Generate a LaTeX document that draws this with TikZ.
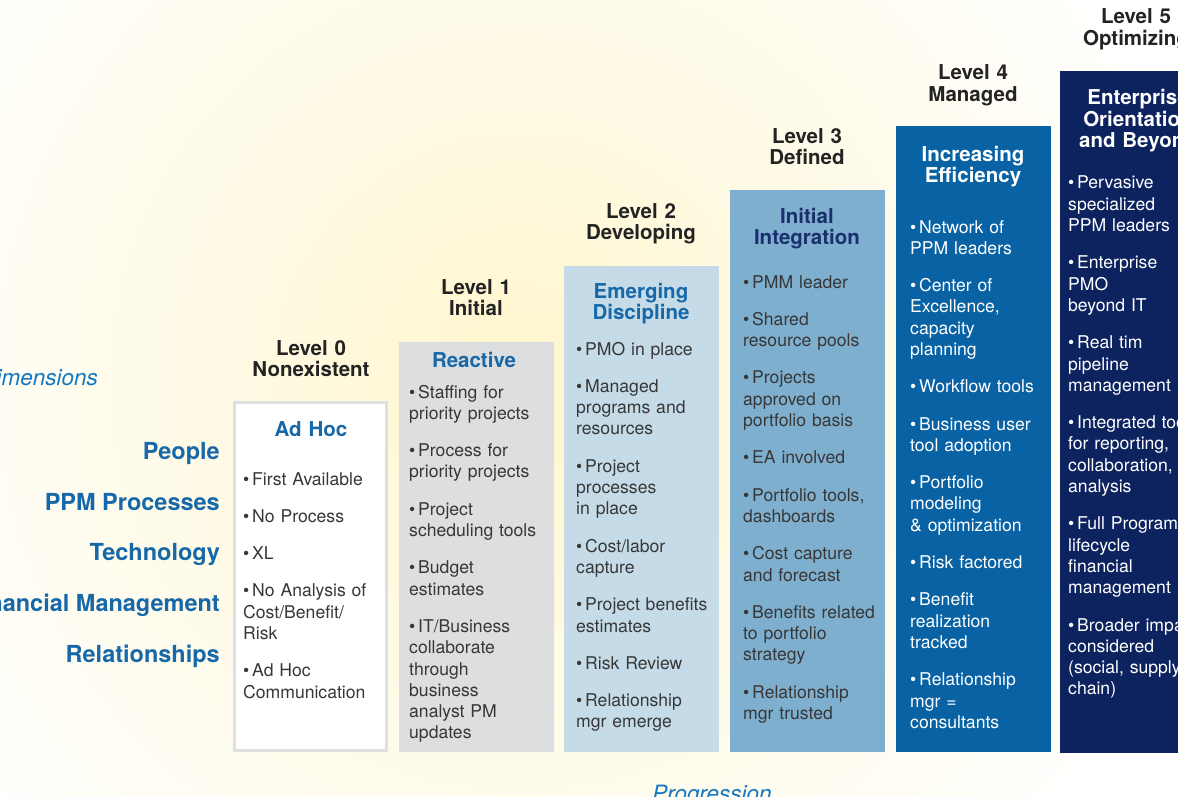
\documentclass[tikz,border=0pt]{standalone}
\usepackage{fontspec}
\setmainfont{TeX Gyre Heros}
\definecolor{dimblue}{RGB}{22,104,168}
\definecolor{itblue}{RGB}{20,120,195}
\definecolor{navyttl}{RGB}{26,48,110}
\definecolor{lvlc}{RGB}{35,35,35}
\definecolor{bodyc}{RGB}{55,55,55}
\definecolor{border0}{RGB}{222,223,225}
\definecolor{fillA}{RGB}{221,222,224}
\definecolor{fillB}{RGB}{197,220,232}
\definecolor{fillC}{RGB}{127,175,207}
\definecolor{fillD}{RGB}{8,98,164}
\definecolor{fillE}{RGB}{12,35,95}
\definecolor{glowA}{RGB}{255,246,205}
\definecolor{glowB}{RGB}{255,250,228}
\pgfdeclareradialshading{glow}{\pgfpoint{0bp}{0bp}}{color(0bp)=(glowA); color(9bp)=(glowB); color(22bp)=(white); color(50bp)=(white)}
\newcommand\itm[1]{\noindent\hangindent=9pt\hangafter=1\makebox[9pt][l]{\textbullet}#1\par}
\begin{document}
\begin{tikzpicture}[x=1pt,y=-1pt,
  colbox/.style={rectangle, inner sep=0pt, outer sep=0pt, anchor=north west, minimum width=155pt},
  lvl/.style={text width=180pt, align=center, anchor=base, inner sep=0pt, text=lvlc, font=\bfseries\fontsize{20.5}{21.5}\selectfont},
  ttl/.style={text width=160pt, align=center, anchor=base, inner sep=0pt, font=\bfseries\fontsize{20.5}{21.5}\selectfont},
  body/.style={text width=175pt, align=left, anchor=base west, inner sep=0pt, font=\fontsize{17.6}{21.3}\selectfont, execute at begin node={\setlength{\parskip}{16pt}}},
  dim/.style={anchor=base east, inner sep=0pt, text=dimblue, font=\bfseries\fontsize{23.5}{24}\selectfont},
  ital/.style={inner sep=0pt, text=itblue, font=\itshape\fontsize{22.5}{23}\selectfont}]
\useasboundingbox (0,0) rectangle (1178,797);
\clip (0,0) rectangle (1178,797);
\fill[white] (0,0) rectangle (1178,797);
\shade[shading=glow] (520,380) circle (800);

% columns
\node[colbox, fill=white, draw=border0, line width=3pt, minimum width=152pt, minimum height=348pt] (c0) at (234.5,402.5) {};
\node[colbox, fill=fillA, minimum height=410pt] (c1) at (399,342) {};
\node[colbox, fill=fillB, minimum height=486pt] (c2) at (564,266) {};
\node[colbox, fill=fillC, minimum height=562pt] (c3) at (730,190) {};
\node[colbox, fill=fillD, minimum height=626pt] (c4) at (896,126) {};
\node[colbox, fill=fillE, minimum height=682pt] (c5) at (1060,71) {};

% level headers
\node[lvl] (h0) at (311,355) {Level 0\\Nonexistent};
\node[lvl] (h1) at (476,294) {Level 1\\Initial};
\node[lvl] (h2) at (641,218) {Level 2\\Developing};
\node[lvl] (h3) at (807,143) {Level 3\\Defined};
\node[lvl] (h4) at (973,80) {Level 4\\Managed};
\node[lvl] (h5) at (1136,24) {Level 5\\Optimizing};

% titles
\node[ttl, text=dimblue] (t0) at (311,436) {Ad Hoc};
\node[ttl, text=dimblue] (t1) at (474,367) {Reactive};
\node[ttl, text=dimblue] (t2) at (641,298) {Emerging\\Discipline};
\node[ttl, text=navyttl] (t3) at (807,223) {Initial\\Integration};
\node[ttl, text=white] (t4) at (973,161) {Increasing\\Efficiency};
\node[ttl, text=white] (t5) at (1138,105) {Enterprise\\Orientation\\and Beyond};

% bodies
\node[body, text=bodyc] (b0) at (243,485) {\itm{First Available}\itm{No Process}\itm{XL}\itm{No Analysis of\\Cost/Benefit/\\Risk}\itm{Ad Hoc\\Communication}};
\node[body, text=bodyc] (b1) at (409,398) {\itm{Staffing for\\priority projects}\itm{Process for\\priority projects}\itm{Project\\scheduling tools}\itm{Budget\\estimates}\itm{IT/Business\\collaborate\\through\\business\\analyst PM\\updates}};
\node[body, text=bodyc] (b2) at (576,355) {\itm{PMO in place}\itm{Managed\\programs and\\resources}\itm{Project\\processes\\in place}\itm{Cost/labor\\capture}\itm{Project benefits\\estimates}\itm{Risk Review}\itm{Relationship\\mgr emerge}};
\node[body, text=bodyc] (b3) at (743,288) {\itm{PMM leader}\itm{Shared\\resource pools}\itm{Projects\\approved on\\portfolio basis}\itm{EA involved}\itm{Portfolio tools,\\dashboards}\itm{Cost capture\\and forecast}\itm{Benefits related\\to portfolio\\strategy}\itm{Relationship\\mgr trusted}};
\node[body, text=white] (b4) at (910,233) {\itm{Network of\\PPM leaders}\itm{Center of\\Excellence,\\capacity\\planning}\itm{Workflow tools}\itm{Business user\\tool adoption}\itm{Portfolio\\modeling\\\& optimization}\itm{Risk factored}\itm{Benefit\\realization\\tracked}\itm{Relationship\\mgr =\\consultants}};
\node[body, text=white] (b5) at (1068,189) {\itm{Pervasive\\specialized\\PPM leaders}\itm{Enterprise\\PMO\\beyond IT}\itm{Real tim\\pipeline\\management}\itm{Integrated tools\\for reporting,\\collaboration,\\analysis}\itm{Full Program\\lifecycle\\financial\\management}\itm{Broader impact\\considered\\(social, supply\\chain)}};

% dimensions
\node[ital, anchor=base east] (dims) at (98,385) {Dimensions};
\node[dim] (d1) at (220,459) {People};
\node[dim] (d2) at (220,510) {PPM Processes};
\node[dim] (d3) at (220,560) {Technology};
\node[dim] (d4) at (220,611) {Financial Management};
\node[dim] (d5) at (220,662) {Relationships};
\node[ital, anchor=base] (prog) at (712,801) {Progression};
\end{tikzpicture}
\end{document}
